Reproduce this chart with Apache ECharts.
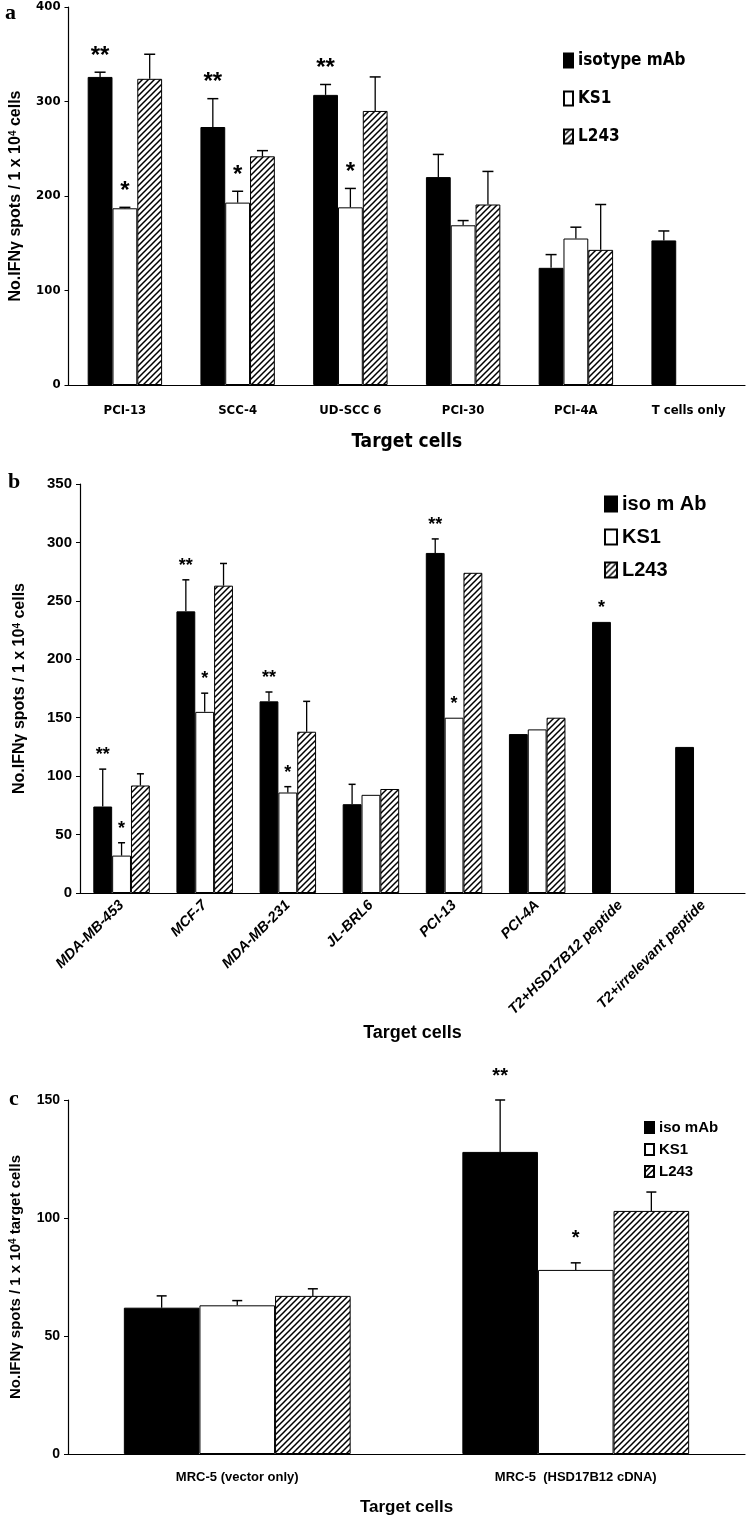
<!DOCTYPE html>
<html>
<head>
<meta charset="UTF-8">
<title>IFN-gamma spots per target cell</title>
<script src="https://cdn.jsdelivr.net/npm/echarts@6/dist/echarts.min.js"></script>
<style>body{margin:0;background:#fff;}</style>
</head>
<body>
<div id="main" style="width:746px;height:1519px;"></div>
<script>
// ---- panel a ----
var catsA = ['PCI-13', 'SCC-4', 'UD-SCC 6', 'PCI-30', 'PCI-4A', 'T cells only'];
var isoA = [326, 273, 307, 220, 124, 153];
var isoErrA = [5, 30, 11, 24, 14, 10];
var ks1A = [187, 193, 188, 169, 155, null];
var ks1ErrA = [1, 12, 20, 5, 12, null];
var l243A = [324, 242, 290, 191, 143, null];
var l243ErrA = [26, 6, 36, 35, 48, null];
var isoSigA = ['**', '**', '**', '', '', ''];
var ks1SigA = ['*', '*', '*', '', '', ''];
var ticksA = [0, 400, 100];

// ---- panel b ----
var catsB = ['MDA-MB-453', 'MCF-7', 'MDA-MB-231', 'JL-BRL6', 'PCI-13', 'PCI-4A', 'T2+HSD17B12 peptide', 'T2+irrelevant peptide'];
var isoB = [74, 241, 164, 76, 291, 136, 232, 125];
var isoErrB = [32, 27, 8, 17, 12, null, null, null];
var ks1B = [32, 155, 86, 84, 150, 140, null, null];
var ks1ErrB = [11, 16, 5, null, null, null, null, null];
var l243B = [92, 263, 138, 89, 274, 150, null, null];
var l243ErrB = [10, 19, 26, null, null, null, null, null];
var isoSigB = ['**', '**', '**', '', '**', '', '*', ''];
var ks1SigB = ['*', '*', '*', '', '*', '', '', ''];
var ticksB = [0, 350, 50];

// ---- panel c ----
var catsC = ['MRC-5 (vector only)', 'MRC-5  (HSD17B12 cDNA)'];
var isoC = [62, 128];
var isoErrC = [5, 22];
var ks1C = [63, 78];
var ks1ErrC = [2, 3];
var l243C = [67, 103];
var l243ErrC = [3, 8];
var isoSigC = ['', '**'];
var ks1SigC = ['', '*'];
var ticksC = [0, 150, 50];

var ARIAL = "'Liberation Sans', Arial, sans-serif";
var NARROW = "'Liberation Sans Narrow', 'DejaVu Sans Condensed', 'Liberation Sans', sans-serif";
var SERIF = "'Liberation Serif', 'DejaVu Serif', serif";

// diagonal hatch fill
function hatch() {
  var c = document.createElement('canvas');
  c.width = 6; c.height = 6;
  var g = c.getContext('2d');
  g.fillStyle = '#fff'; g.fillRect(0, 0, 6, 6);
  g.strokeStyle = '#000'; g.lineWidth = 1.5;
  g.beginPath();
  g.moveTo(-1, 7); g.lineTo(7, -1);
  g.moveTo(-4, 4); g.lineTo(4, -4);
  g.moveTo(2, 10); g.lineTo(10, 2);
  g.stroke();
  return { image: c, repeat: 'repeat' };
}
var HATCH = hatch();

function buildItems(lists) {
  var out = [];
  lists.forEach(function (l, s) {
    l.vals.forEach(function (v, i) {
      if (v == null) return;
      var err = l.errs[i] || 0;
      var sig = l.sigs ? l.sigs[i] : '';
      if (!err && !sig) return;
      out.push({ cat: i, val: v, err: err, s: s, sig: sig });
    });
  });
  return out;
}

function errSeries(items, idx, gap, cap, starSize, starOff) {
  return {
    type: 'custom', xAxisIndex: idx, yAxisIndex: idx, z: 5, silent: true, clip: false,
    data: items.map(function (d) { return [d.cat, d.val + d.err]; }),
    encode: { x: 0, y: 1 },
    renderItem: function (params, api) {
      var d = items[params.dataIndex];
      var band = api.size([1, 0])[0];
      var bw = band * (1 - gap) / 3;
      var p0 = api.coord([d.cat, d.val]);
      var p1 = api.coord([d.cat, d.val + d.err]);
      var x = p0[0] + (d.s - 1) * bw;
      var kids = [];
      if (d.err) {
        kids.push({ type: 'line', shape: { x1: x, y1: p0[1], x2: x, y2: p1[1] }, style: { stroke: '#000', lineWidth: 1.3 } });
        kids.push({ type: 'line', shape: { x1: x - cap / 2, y1: p1[1], x2: x + cap / 2, y2: p1[1] }, style: { stroke: '#000', lineWidth: 1.5 } });
      }
      if (d.sig) {
        kids.push({ type: 'text', style: { text: d.sig, x: x, y: p1[1] - starOff, align: 'center', verticalAlign: 'middle', font: 'bold ' + starSize + 'px ' + ARIAL, fill: '#000' } });
      }
      return { type: 'group', children: kids };
    }
  };
}

function bars(names, vals, idx, gap) {
  var styles = [
    { color: '#000', borderColor: '#000', borderWidth: 1 },
    { color: '#fff', borderColor: '#000', borderWidth: 1 },
    { color: HATCH, borderColor: '#000', borderWidth: 1 }
  ];
  return vals.map(function (v, s) {
    return {
      name: names[s], type: 'bar', xAxisIndex: idx, yAxisIndex: idx,
      data: v, barGap: '0%', barCategoryGap: (gap * 100) + '%',
      itemStyle: styles[s], emphasis: { disabled: true }
    };
  });
}

function supName(pre, post, size) {
  return {
    text: pre + '{s|4}' + post,
    style: {
      fontWeight: 'bold', fontSize: size, fontFamily: ARIAL, color: '#000',
      rich: { s: { fontWeight: 'bold', fontSize: Math.round(size * 0.65), fontFamily: ARIAL, color: '#000', verticalAlign: 'top', lineHeight: size, padding: [0, 0, size * 0.45, 0] } }
    }
  };
}

var gapA = 0.34, gapB = 0.32, gapC = 0.33;
var nA = supName('No.IFNγ spots / 1 x 10', ' cells', 16);
var nB = supName('No.IFNγ spots / 1 x 10', ' cells', 16);
var nC = supName('No.IFNγ spots / 1 x 10', ' target cells', 15);

var axisLine = { lineStyle: { color: '#000', width: 1.2 } };

var chart = echarts.init(document.getElementById('main'));
chart.setOption({
  animation: false,
  grid: [
    { left: 62, right: 1, top: 7, height: 378 },
    { left: 80, right: 1, top: 484, height: 409 },
    { left: 68, right: 1, top: 1100, height: 354 }
  ],
  legend: [
    { data: ['isotype mAb', 'KS1', 'L243'], orient: 'vertical', left: 558, top: 47, icon: 'rect', itemWidth: 9, itemHeight: 14, itemGap: 21,
      textStyle: { fontFamily: NARROW, fontWeight: 'bold', fontSize: 17, color: '#000' }, selectedMode: false },
    { data: ['iso mAb', 'KS1', 'L243'], orient: 'vertical', left: 599, top: 489, icon: 'rect', itemWidth: 12, itemHeight: 15, itemGap: 13,
      formatter: function (n) { return n === 'iso mAb' ? 'iso m Ab' : n; },
      textStyle: { fontFamily: ARIAL, fontWeight: 'bold', fontSize: 20, color: '#000' }, selectedMode: false },
    { data: ['iso mAb', 'KS1', 'L243'], orient: 'vertical', left: 639, top: 1115, icon: 'rect', itemWidth: 9, itemHeight: 11, itemGap: 7,
      textStyle: { fontFamily: ARIAL, fontWeight: 'bold', fontSize: 15, color: '#000' }, selectedMode: false }
  ],
  xAxis: [
    { type: 'category', gridIndex: 0, data: catsA, axisLine: axisLine, axisTick: { length: 5, lineStyle: { color: '#000' } },
      axisLabel: { color: '#000', fontFamily: NARROW, fontWeight: 'bold', fontSize: 13, margin: 19, interval: 0 },
      name: 'Target cells', nameLocation: 'middle', nameGap: 48,
      nameTextStyle: { fontFamily: NARROW, fontWeight: 'bold', fontSize: 19, color: '#000' } },
    { type: 'category', gridIndex: 1, data: catsB, axisLine: axisLine, axisTick: { length: 5, lineStyle: { color: '#000' } },
      axisLabel: { color: '#000', fontFamily: ARIAL, fontWeight: 'bold', fontStyle: 'italic', fontSize: 14.5, rotate: 45, margin: 10, interval: 0 },
      name: 'Target cells', nameLocation: 'middle', nameGap: 131,
      nameTextStyle: { fontFamily: ARIAL, fontWeight: 'bold', fontSize: 18, color: '#000' } },
    { type: 'category', gridIndex: 2, data: catsC, axisLine: axisLine, axisTick: { length: 5, lineStyle: { color: '#000' } },
      axisLabel: { color: '#000', fontFamily: ARIAL, fontWeight: 'bold', fontSize: 13, margin: 17, interval: 0 },
      name: 'Target cells', nameLocation: 'middle', nameGap: 45,
      nameTextStyle: { fontFamily: ARIAL, fontWeight: 'bold', fontSize: 17, color: '#000' } }
  ],
  yAxis: [
    { type: 'value', gridIndex: 0, min: ticksA[0], max: ticksA[1], interval: ticksA[2], splitLine: { show: false },
      axisLine: { show: true, lineStyle: { color: '#000', width: 1.2 } }, axisTick: { show: true, length: 4, lineStyle: { color: '#000' } },
      axisLabel: { color: '#000', fontFamily: NARROW, fontWeight: 'bold', fontSize: 13, margin: 8 },
      name: nA.text, nameLocation: 'middle', nameGap: 38, nameTextStyle: nA.style },
    { type: 'value', gridIndex: 1, min: ticksB[0], max: ticksB[1], interval: ticksB[2], splitLine: { show: false },
      axisLine: { show: true, lineStyle: { color: '#000', width: 1.2 } }, axisTick: { show: true, length: 4, lineStyle: { color: '#000' } },
      axisLabel: { color: '#000', fontFamily: ARIAL, fontWeight: 'bold', fontSize: 15, margin: 8 },
      name: nB.text, nameLocation: 'middle', nameGap: 52, nameTextStyle: nB.style },
    { type: 'value', gridIndex: 2, min: ticksC[0], max: ticksC[1], interval: ticksC[2], splitLine: { show: false },
      axisLine: { show: true, lineStyle: { color: '#000', width: 1.2 } }, axisTick: { show: true, length: 4, lineStyle: { color: '#000' } },
      axisLabel: { color: '#000', fontFamily: ARIAL, fontWeight: 'bold', fontSize: 14, margin: 8 },
      name: nC.text, nameLocation: 'middle', nameGap: 45, nameTextStyle: nC.style }
  ],
  graphic: [
    { type: 'text', left: 5, top: 2, style: { text: 'a', font: 'bold 22px ' + SERIF, fill: '#000' } },
    { type: 'text', left: 8, top: 471, style: { text: 'b', font: 'bold 22px ' + SERIF, fill: '#000' } },
    { type: 'text', left: 9, top: 1088, style: { text: 'c', font: 'bold 22px ' + SERIF, fill: '#000' } }
  ],
  series: [].concat(
    bars(['isotype mAb', 'KS1', 'L243'], [isoA, ks1A, l243A], 0, gapA),
    bars(['iso mAb', 'KS1', 'L243'], [isoB, ks1B, l243B], 1, gapB),
    bars(['iso mAb', 'KS1', 'L243'], [isoC, ks1C, l243C], 2, gapC),
    [
      errSeries(buildItems([
        { vals: isoA, errs: isoErrA, sigs: isoSigA },
        { vals: ks1A, errs: ks1ErrA, sigs: ks1SigA },
        { vals: l243A, errs: l243ErrA }
      ]), 0, gapA, 11, 24, 16),
      errSeries(buildItems([
        { vals: isoB, errs: isoErrB, sigs: isoSigB },
        { vals: ks1B, errs: ks1ErrB, sigs: ks1SigB },
        { vals: l243B, errs: l243ErrB }
      ]), 1, gapB, 7, 18, 14),
      errSeries(buildItems([
        { vals: isoC, errs: isoErrC, sigs: isoSigC },
        { vals: ks1C, errs: ks1ErrC, sigs: ks1SigC },
        { vals: l243C, errs: l243ErrC }
      ]), 2, gapC, 10, 20, 24)
    ]
  )
});
</script>
</body>
</html>
